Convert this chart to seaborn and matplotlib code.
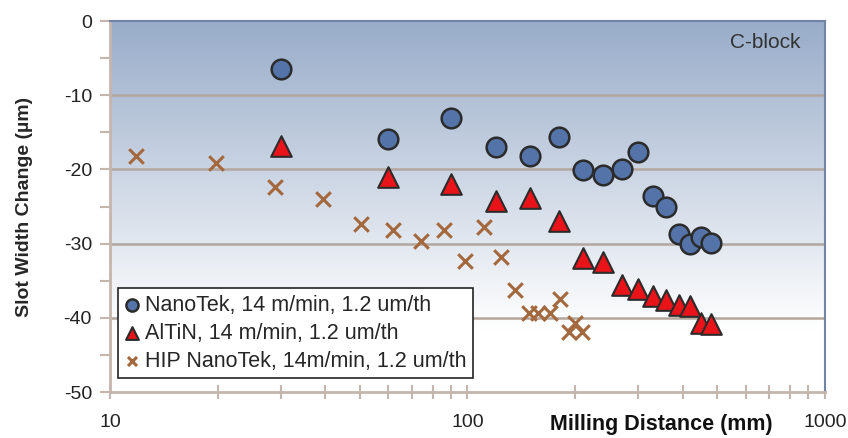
import numpy as np
import pandas as pd
import matplotlib
matplotlib.use("Agg")
import matplotlib.pyplot as plt
from matplotlib.ticker import FixedLocator, NullFormatter
import seaborn as sns

# Data
nanotek_dist = [30, 60, 90, 120, 150, 180, 210, 240, 270, 300, 330, 360, 390, 420, 450, 480]
nanotek_change = [-6.5, -15.9, -13.1, -17.0, -18.2, -15.6, -20.1, -20.8, -19.9, -17.7,
                  -23.6, -25.1, -28.7, -30.1, -29.1, -29.9]

altin_dist = [30, 60, 90, 120, 150, 180, 210, 240, 270, 300, 330, 360, 390, 420, 450, 480]
altin_change = [-16.9, -21.0, -21.9, -24.2, -23.8, -27.0, -32.0, -32.5, -35.6, -36.1,
                -37.0, -37.6, -38.3, -38.4, -40.7, -40.8]

hip_dist = [11.8, 19.8, 29, 39.5, 50.5, 62, 74, 86, 98.6, 111, 124, 136, 148.5, 158,
            170, 182, 193, 200.5, 209]
hip_change = [-18.2, -19.1, -22.4, -24.0, -27.3, -28.1, -29.6, -28.1, -32.3, -27.8,
              -31.8, -36.3, -39.3, -39.4, -39.3, -37.4, -41.9, -40.7, -41.9]

labels = ["NanoTek, 14 m/min, 1.2 um/th",
          "AlTiN, 14 m/min, 1.2 um/th",
          "HIP NanoTek, 14m/min, 1.2 um/th"]

df_nano = pd.DataFrame({"dist": nanotek_dist, "change": nanotek_change})
df_altin = pd.DataFrame({"dist": altin_dist, "change": altin_change})
df_hip = pd.DataFrame({"dist": hip_dist, "change": hip_change})

sns.set_style("white")
plt.rcParams["font.family"] = ["Liberation Sans", "DejaVu Sans"]
plt.rcParams["axes.unicode_minus"] = False

fig = plt.figure(figsize=(8.48, 4.38), dpi=100)
ax = fig.add_axes([0.1297, 0.105, 0.843, 0.847])

# gradient background: blue at top fading to white near -41
top = np.array([0x98, 0xac, 0xc9]) / 255
bot = np.array([0xff, 0xff, 0xff]) / 255
n = 500
frac = np.linspace(0, 1, n)  # 0 = top of axes
fade_end = 41.5 / 50
t = np.clip(frac / fade_end, 0, 1)
grad = top[None, :] * (1 - t[:, None]) + bot[None, :] * t[:, None]
grad = np.repeat(grad[:, None, :], 2, axis=1)
ax.imshow(grad, extent=[0, 1, 0, 1], transform=ax.transAxes, aspect="auto", zorder=0)

sns.scatterplot(data=df_hip, x="dist", y="change", ax=ax, marker="x",
                color="#a3683d", s=110, linewidth=2.2, label=labels[2], zorder=3)
sns.scatterplot(data=df_nano, x="dist", y="change", ax=ax, marker="o",
                color="#5473a8", edgecolor="#2b2b2b", s=200, linewidth=1.8,
                label=labels[0], zorder=4)
sns.scatterplot(data=df_altin, x="dist", y="change", ax=ax, marker="^",
                color="#e8141a", edgecolor="#2b2b2b", s=220, linewidth=1.5,
                label=labels[1], zorder=5)

ax.set_xscale("log")
ax.set_xlim(10, 1000)
ax.set_ylim(-50, 0)
ax.set_aspect("auto")

ax.xaxis.set_major_locator(FixedLocator([10, 100, 1000]))
ax.set_xticklabels(["10", "100", "1000"])
minor_x = [m * d for d in (10, 100) for m in range(2, 10)]
ax.xaxis.set_minor_locator(FixedLocator(minor_x))
ax.xaxis.set_minor_formatter(NullFormatter())
ax.yaxis.set_major_locator(FixedLocator([0, -10, -20, -30, -40, -50]))
ax.yaxis.set_minor_locator(FixedLocator([-5, -15, -25, -35, -45]))

tick_col = "#c4b6ad"
ax.tick_params(axis="x", which="both", direction="inout", length=10, width=1.5,
               color=tick_col, labelsize=14, labelcolor="#222222", pad=11, bottom=True)
ax.tick_params(axis="y", which="both", direction="out", length=7, width=1.5,
               color=tick_col, labelsize=14, labelcolor="#222222", pad=6, left=True)

for y in [-10, -20, -30, -40]:
    ax.axhline(y, color="#b3a69e", linewidth=1.8, zorder=1)

for side in ["left", "bottom"]:
    ax.spines[side].set_color(tick_col)
    ax.spines[side].set_linewidth(2)
for side in ["top", "right"]:
    ax.spines[side].set_color("#7283a6")
    ax.spines[side].set_linewidth(1.5)

ax.set_xlabel("")
ax.set_ylabel("Slot Width Change (µm)", fontsize=14, fontweight="bold", labelpad=22)
ax.text(0.771, -0.058, "Milling Distance (mm)", transform=ax.transAxes,
        ha="center", va="top", fontsize=15.5, fontweight="bold", color="#111111")
ax.text(0.966, 0.968, "C-block", transform=ax.transAxes, ha="right", va="top",
        fontsize=15, color="#333333")

handles, labs = ax.get_legend_handles_labels()
order = [labs.index(l) for l in labels]
leg = ax.legend([handles[i] for i in order], [labs[i] for i in order],
                loc="lower left", bbox_to_anchor=(0.011, 0.037), fontsize=15.5,
                frameon=True, fancybox=False, handlelength=0.7, handletextpad=0.25,
                borderpad=0.3, labelspacing=0.33, markerscale=0.62, borderaxespad=0)
leg.get_frame().set_edgecolor("#222222")
leg.get_frame().set_linewidth(1.2)
leg.get_frame().set_facecolor("white")
leg.get_frame().set_alpha(1)

fig.savefig("out.png", dpi=100)
